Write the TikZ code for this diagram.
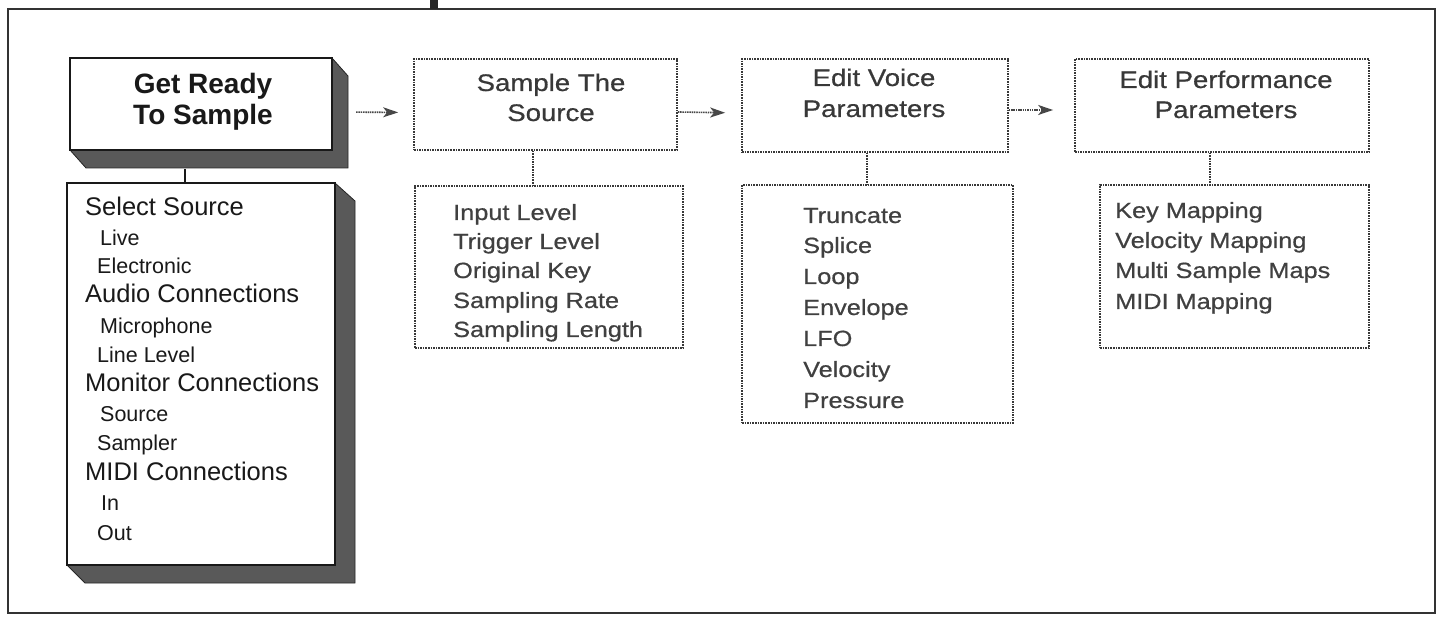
\documentclass[tikz,border=0pt]{standalone}
\usepackage{fontspec}
\setmainfont{Liberation Sans}
\newfontfamily\gfont[FakeStretch=1.15,FakeBold=0.6]{Liberation Sans}
\usetikzlibrary{arrows.meta}
\begin{document}
\begin{tikzpicture}[x=1pt,y=-1pt,
  solidbox/.style={draw=black!90, line width=2.2pt, fill=white, inner sep=0pt},
  dotbox/.style={draw=black!78, line width=1.7pt, dash pattern=on 1.6pt off 1pt, fill=white, inner sep=0pt},
  shade/.style={fill=black!65, draw=black!85, line width=0.8pt},
  solidline/.style={draw=black!90, line width=2pt},
  dotline/.style={draw=black!78, line width=1.7pt, dash pattern=on 1.6pt off 1pt},
  flow/.style={draw=black!72, line width=1.6pt, dash pattern=on 1.5pt off 0.8pt, -{Stealth[length=15pt,width=10pt,inset=4pt]}},
  bigtitle/.style={anchor=base, inner sep=0pt, text=black!90, font=\fontsize{28}{30}\selectfont\bfseries},
  gtitle/.style={anchor=base, inner sep=0pt, text=black!78, font=\gfont\fontsize{24}{26}\selectfont},
  head/.style={anchor=base west, inner sep=0pt, text=black!90, font=\fontsize{25.5}{28}\selectfont},
  sub/.style={anchor=base west, inner sep=0pt, text=black!90, font=\fontsize{21.5}{24}\selectfont},
  gitem/.style={anchor=base west, inner sep=0pt, text=black!75, font=\gfont\fontsize{22}{24}\selectfont}]
\useasboundingbox (0,0) rectangle (1441,617);
\fill[white] (0,0) rectangle (1441,617);
% outer frame
\draw[black!80, line width=2.5pt] (8,9) rectangle (1435,613);
\fill[black!85] (430,0) rectangle (438,9);

% shadows
\fill[shade] (332,58) -- (348,76) -- (348,168) -- (86,168) -- (70,150) -- (332,150) -- cycle;
\fill[shade] (335,183) -- (355,201) -- (355,583) -- (85,583) -- (67,565) -- (335,565) -- cycle;

% boxes
\node[solidbox, minimum width=262pt, minimum height=92pt] (gr) at (201,104) {};
\node[solidbox, minimum width=268pt, minimum height=382pt] (gl) at (201,374) {};
\node[dotbox, minimum width=263pt, minimum height=91pt] (st) at (545.5,104.5) {};
\node[dotbox, minimum width=268pt, minimum height=162pt] (sl) at (549,267) {};
\node[dotbox, minimum width=266pt, minimum height=93pt] (vo) at (875,105.5) {};
\node[dotbox, minimum width=271pt, minimum height=238pt] (vl) at (877.5,304) {};
\node[dotbox, minimum width=294pt, minimum height=93pt] (pf) at (1222,105.5) {};
\node[dotbox, minimum width=269pt, minimum height=163pt] (pl) at (1234.5,266.5) {};

% vertical connectors
\draw[solidline] ([xshift=-16pt,yshift=-18pt]gr.south) -- ([xshift=-16pt]gl.north);
\draw[dotline] ([xshift=-12.5pt]st.south) -- ([xshift=-16pt]sl.north);
\draw[dotline] ([xshift=-8pt]vo.south) -- ([xshift=-10.5pt]vl.north);
\draw[dotline] ([xshift=-12pt]pf.south) -- ([xshift=-24.5pt]pl.north);

% flow arrows
\draw[flow, shorten <=23pt, shorten >=15pt] ([yshift=-8pt]gr.east) -- ([yshift=-8pt]st.west);
\draw[flow, shorten >=16pt] ([yshift=-7.5pt]st.east) -- ([yshift=-7.5pt]vo.west);
\draw[flow, shorten >=21pt] ([yshift=-4.5pt]vo.east) -- ([yshift=-4.5pt]pf.west);

% titles
\node[bigtitle] (gr1) at (203,94) {Get Ready};
\node[bigtitle] (gr2) at (203,125) {To Sample};
\node[gtitle] (st1) at (551,91) {Sample The};
\node[gtitle] (st2) at (551,121) {Source};
\node[gtitle] (vo1) at (874,86) {Edit Voice};
\node[gtitle] (vo2) at (874,117) {Parameters};
\node[gtitle] (pf1) at (1226,88) {Edit Performance};
\node[gtitle] (pf2) at (1226,118) {Parameters};

% Get ready list
\node[head] (g1) at (85,216) {Select Source};
\node[sub] (g2) at (100,246) {Live};
\node[sub] (g3) at (97,274) {Electronic};
\node[head] (g4) at (85,303) {Audio Connections};
\node[sub] (g5) at (100,334) {Microphone};
\node[sub] (g6) at (97,363) {Line Level};
\node[head] (g7) at (85,392) {Monitor Connections};
\node[sub] (g8) at (100,422) {Source};
\node[sub] (g9) at (97,450) {Sampler};
\node[head] (g10) at (85,481) {MIDI Connections};
\node[sub] (g11) at (101,510) {In};
\node[sub] (g12) at (97,540) {Out};

% sample list
\node[gitem] (s1) at (453,220) {Input Level};
\node[gitem] (s2) at (453,249) {Trigger Level};
\node[gitem] (s3) at (453,278) {Original Key};
\node[gitem] (s4) at (453,308) {Sampling Rate};
\node[gitem] (s5) at (453,337) {Sampling Length};

% voice list
\node[gitem] (v1) at (803,223) {Truncate};
\node[gitem] (v2) at (803,253) {Splice};
\node[gitem] (v3) at (803,284) {Loop};
\node[gitem] (v4) at (803,315) {Envelope};
\node[gitem] (v5) at (803,346) {LFO};
\node[gitem] (v6) at (803,377) {Velocity};
\node[gitem] (v7) at (803,408) {Pressure};

% performance list
\node[gitem] (p1) at (1115,218) {Key Mapping};
\node[gitem] (p2) at (1115,248) {Velocity Mapping};
\node[gitem] (p3) at (1115,278) {Multi Sample Maps};
\node[gitem] (p4) at (1115,309) {MIDI Mapping};
\end{tikzpicture}
\end{document}
